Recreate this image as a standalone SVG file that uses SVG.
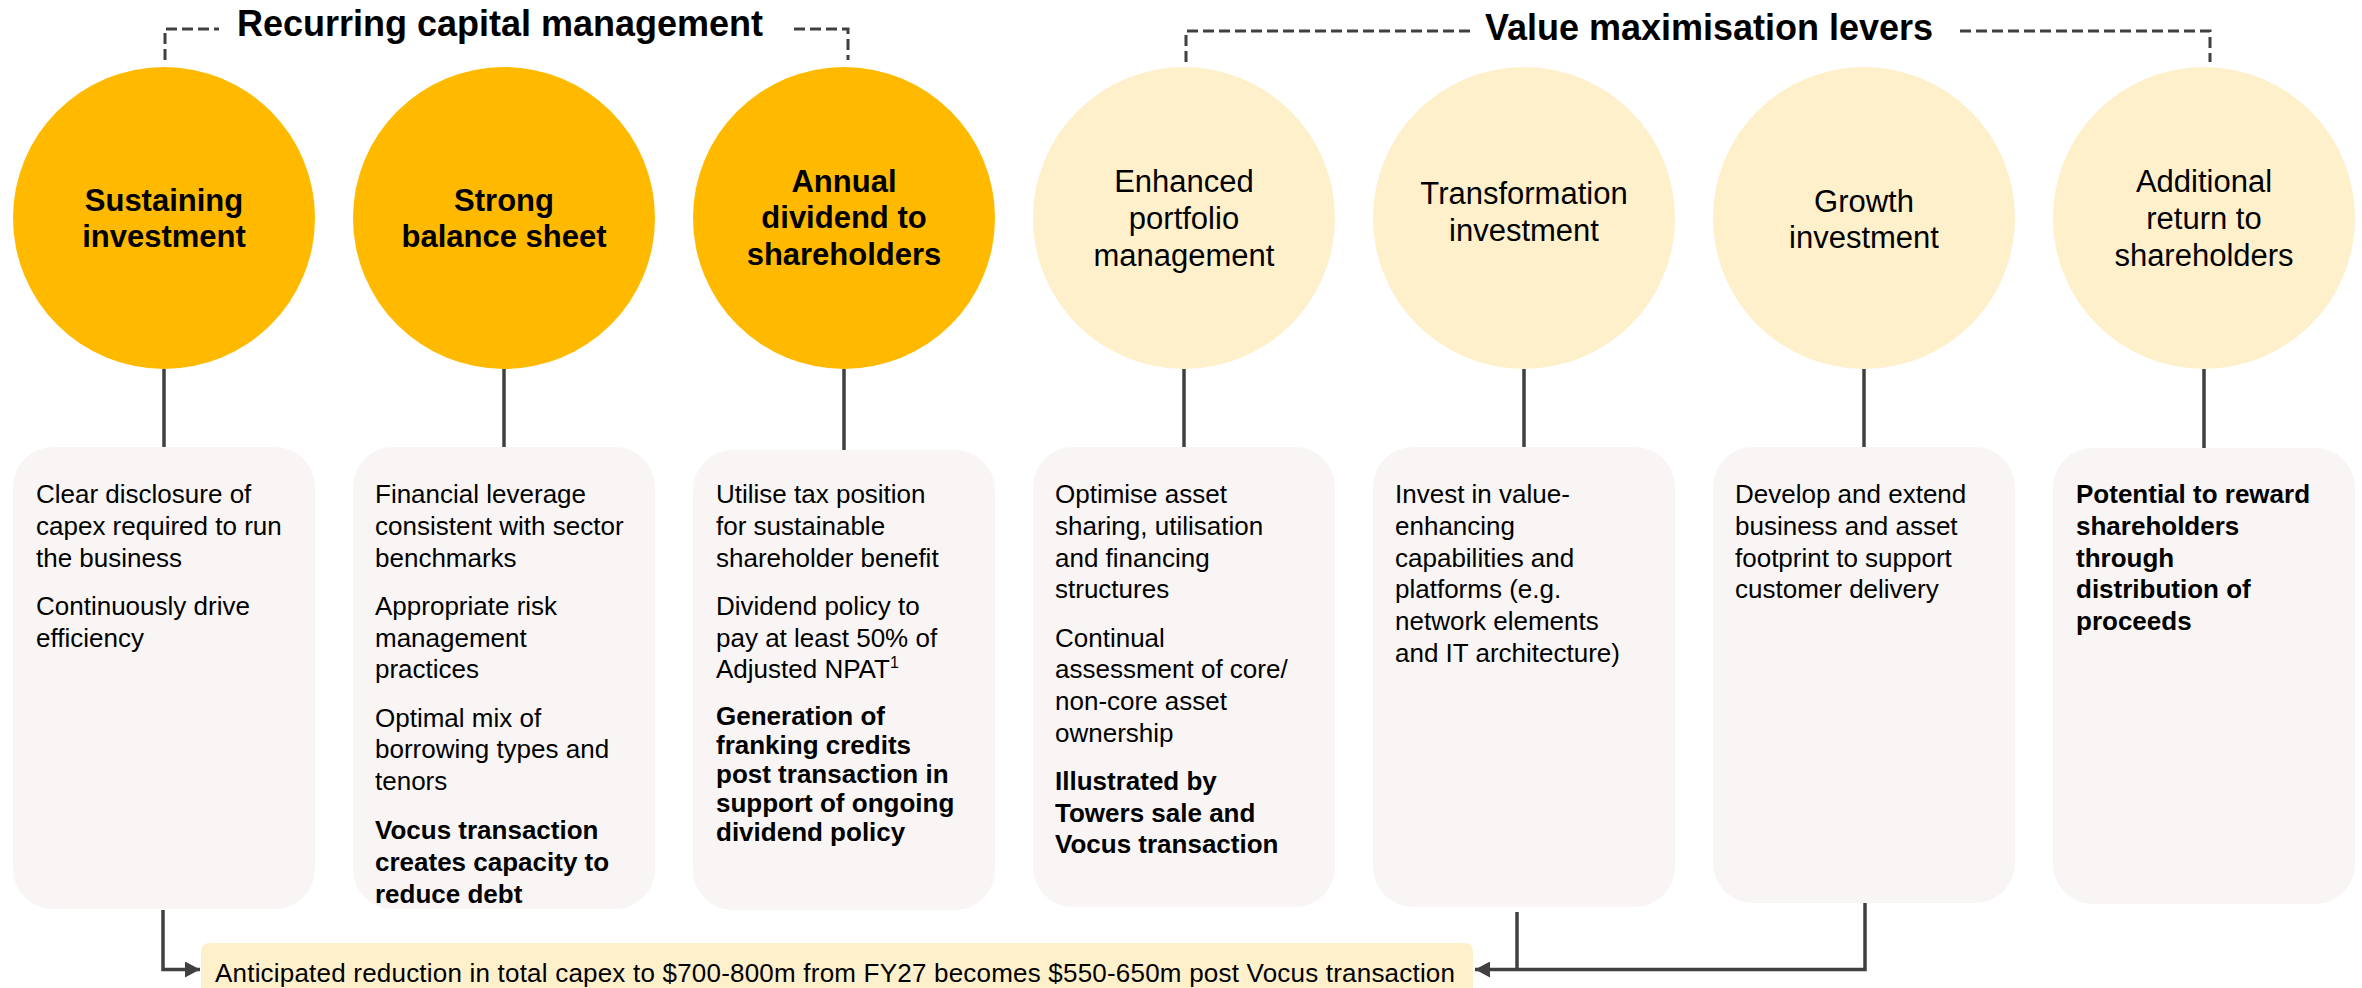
<svg xmlns="http://www.w3.org/2000/svg" width="2362" height="988" viewBox="0 0 2362 988">
  <defs>
    <style>
      text { font-family: "Liberation Sans", Arial, sans-serif; fill: #000; }
      .title { font-size: 36px; font-weight: bold; text-anchor: middle; }
      .cl { font-size: 31px; text-anchor: middle; }
      .b { font-weight: bold; }
      .core { fill: #FFBA00; }
      .lever { fill: #FFF0CC; }
      .card { fill: #F8F5F4; }
      .body { font-size: 26px; }
      .stem { stroke: #404040; stroke-width: 3.5; fill: none; }
      .bracket { stroke: #404040; stroke-width: 3; fill: none; stroke-dasharray: 11 5; }
    </style>
    <marker id="arr" markerUnits="userSpaceOnUse" markerWidth="16" markerHeight="16" refX="15" refY="8" orient="auto">
      <path d="M0,0 L15,8 L0,16 Z" fill="#404040"/>
    </marker>
  </defs>

  <rect width="2362" height="988" fill="#FFFFFF"/>

  <!-- Group headings with dashed brackets -->
  <g id="heading-recurring">
    <path class="bracket" d="M165,60 V29 H219"/>
    <path class="bracket" d="M794,29 H848 V60"/>
    <text class="title" x="500" y="36">Recurring capital management</text>
  </g>
  <g id="heading-value">
    <path class="bracket" d="M1186,62 V31 H1473"/>
    <path class="bracket" d="M1960,31 H2210 V62"/>
    <text class="title" x="1709" y="40">Value maximisation levers</text>
  </g>

  <!-- Connectors -->
  <g id="connectors">
    <line class="stem" x1="164" y1="369" x2="164" y2="447"/>
    <line class="stem" x1="504" y1="369" x2="504" y2="447"/>
    <line class="stem" x1="844" y1="369" x2="844" y2="450"/>
    <line class="stem" x1="1184" y1="369" x2="1184" y2="447"/>
    <line class="stem" x1="1524" y1="369" x2="1524" y2="447"/>
    <line class="stem" x1="1864" y1="369" x2="1864" y2="447"/>
    <line class="stem" x1="2204" y1="369" x2="2204" y2="448"/>
    <path class="stem" d="M163,910 V969.5 H200" marker-end="url(#arr)"/>
    <path class="stem" d="M1865,903 V969.5 H1475" marker-end="url(#arr)"/>
    <path class="stem" d="M1517,912 V969.5"/>
  </g>

  <!-- Sustaining investment -->
  <g id="sustaining">
    <circle class="core" cx="164" cy="218" r="151"/>
    <text class="cl b" x="164" y="211">Sustaining</text>
    <text class="cl b" x="164" y="247">investment</text>
    <rect class="card" x="13" y="447" width="302" height="462" rx="40"/>
    <text class="body" x="36">
      <tspan x="36" y="503">Clear disclosure of</tspan>
      <tspan x="36" y="535">capex required to run</tspan>
      <tspan x="36" y="567">the business</tspan>
      <tspan x="36" y="615">Continuously drive</tspan>
      <tspan x="36" y="647">efficiency</tspan>
    </text>
  </g>

  <!-- Strong balance sheet -->
  <g id="balance-sheet">
    <circle class="core" cx="504" cy="218" r="151"/>
    <text class="cl b" x="504" y="211">Strong</text>
    <text class="cl b" x="504" y="247">balance sheet</text>
    <rect class="card" x="353" y="447" width="302" height="462" rx="40"/>
    <text class="body">
      <tspan x="375" y="503">Financial leverage</tspan>
      <tspan x="375" y="535">consistent with sector</tspan>
      <tspan x="375" y="567">benchmarks</tspan>
      <tspan x="375" y="615">Appropriate risk</tspan>
      <tspan x="375" y="647">management</tspan>
      <tspan x="375" y="678">practices</tspan>
      <tspan x="375" y="727">Optimal mix of</tspan>
      <tspan x="375" y="758">borrowing types and</tspan>
      <tspan x="375" y="790">tenors</tspan>
    </text>
    <text class="body b">
      <tspan x="375" y="839">Vocus transaction</tspan>
      <tspan x="375" y="871">creates capacity to</tspan>
      <tspan x="375" y="903">reduce debt</tspan>
    </text>
  </g>

  <!-- Annual dividend to shareholders -->
  <g id="annual-dividend">
    <circle class="core" cx="844" cy="218" r="151"/>
    <text class="cl b" x="844" y="192">Annual</text>
    <text class="cl b" x="844" y="228">dividend to</text>
    <text class="cl b" x="844" y="265">shareholders</text>
    <rect class="card" x="693" y="450" width="302" height="460" rx="40"/>
    <text class="body">
      <tspan x="716" y="503">Utilise tax position</tspan>
      <tspan x="716" y="535">for sustainable</tspan>
      <tspan x="716" y="567">shareholder benefit</tspan>
      <tspan x="716" y="615">Dividend policy to</tspan>
      <tspan x="716" y="647">pay at least 50% of</tspan>
      <tspan x="716" y="678">Adjusted NPAT</tspan><tspan font-size="16" dy="-10">1</tspan>
    </text>
    <text class="body b">
      <tspan x="716" y="725">Generation of</tspan>
      <tspan x="716" y="754">franking credits</tspan>
      <tspan x="716" y="783">post transaction in</tspan>
      <tspan x="716" y="812">support of ongoing</tspan>
      <tspan x="716" y="841">dividend policy</tspan>
    </text>
  </g>

  <!-- Enhanced portfolio management -->
  <g id="portfolio">
    <circle class="lever" cx="1184" cy="218" r="151"/>
    <text class="cl" x="1184" y="192">Enhanced</text>
    <text class="cl" x="1184" y="229">portfolio</text>
    <text class="cl" x="1184" y="266">management</text>
    <rect class="card" x="1033" y="447" width="302" height="460" rx="40"/>
    <text class="body">
      <tspan x="1055" y="503">Optimise asset</tspan>
      <tspan x="1055" y="535">sharing, utilisation</tspan>
      <tspan x="1055" y="567">and financing</tspan>
      <tspan x="1055" y="598">structures</tspan>
      <tspan x="1055" y="647">Continual</tspan>
      <tspan x="1055" y="678">assessment of core/</tspan>
      <tspan x="1055" y="710">non-core asset</tspan>
      <tspan x="1055" y="742">ownership</tspan>
    </text>
    <text class="body b">
      <tspan x="1055" y="790">Illustrated by</tspan>
      <tspan x="1055" y="822">Towers sale and</tspan>
      <tspan x="1055" y="853">Vocus transaction</tspan>
    </text>
  </g>

  <!-- Transformation investment -->
  <g id="transformation">
    <circle class="lever" cx="1524" cy="218" r="151"/>
    <text class="cl" x="1524" y="204">Transformation</text>
    <text class="cl" x="1524" y="241">investment</text>
    <rect class="card" x="1373" y="447" width="302" height="460" rx="40"/>
    <text class="body">
      <tspan x="1395" y="503">Invest in value-</tspan>
      <tspan x="1395" y="535">enhancing</tspan>
      <tspan x="1395" y="567">capabilities and</tspan>
      <tspan x="1395" y="598">platforms (e.g.</tspan>
      <tspan x="1395" y="630">network elements</tspan>
      <tspan x="1395" y="662">and IT architecture)</tspan>
    </text>
  </g>

  <!-- Growth investment -->
  <g id="growth">
    <circle class="lever" cx="1864" cy="218" r="151"/>
    <text class="cl" x="1864" y="212">Growth</text>
    <text class="cl" x="1864" y="248">investment</text>
    <rect class="card" x="1713" y="447" width="302" height="456" rx="40"/>
    <text class="body">
      <tspan x="1735" y="503">Develop and extend</tspan>
      <tspan x="1735" y="535">business and asset</tspan>
      <tspan x="1735" y="567">footprint to support</tspan>
      <tspan x="1735" y="598">customer delivery</tspan>
    </text>
  </g>

  <!-- Additional return to shareholders -->
  <g id="additional-return">
    <circle class="lever" cx="2204" cy="218" r="151"/>
    <text class="cl" x="2204" y="192">Additional</text>
    <text class="cl" x="2204" y="229">return to</text>
    <text class="cl" x="2204" y="266">shareholders</text>
    <rect class="card" x="2053" y="448" width="302" height="456" rx="40"/>
    <text class="body b">
      <tspan x="2076" y="503">Potential to reward</tspan>
      <tspan x="2076" y="535">shareholders</tspan>
      <tspan x="2076" y="567">through</tspan>
      <tspan x="2076" y="598">distribution of</tspan>
      <tspan x="2076" y="630">proceeds</tspan>
    </text>
  </g>

  <!-- Capex outcome banner -->
  <g id="capex-banner">
    <rect class="lever" x="201" y="943" width="1272" height="70" rx="8"/>
    <text class="body" x="215" y="982" font-size="26.4" textLength="1240" lengthAdjust="spacing">Anticipated reduction in total capex to $700-800m from FY27 becomes $550-650m post Vocus transaction</text>
  </g>
</svg>
